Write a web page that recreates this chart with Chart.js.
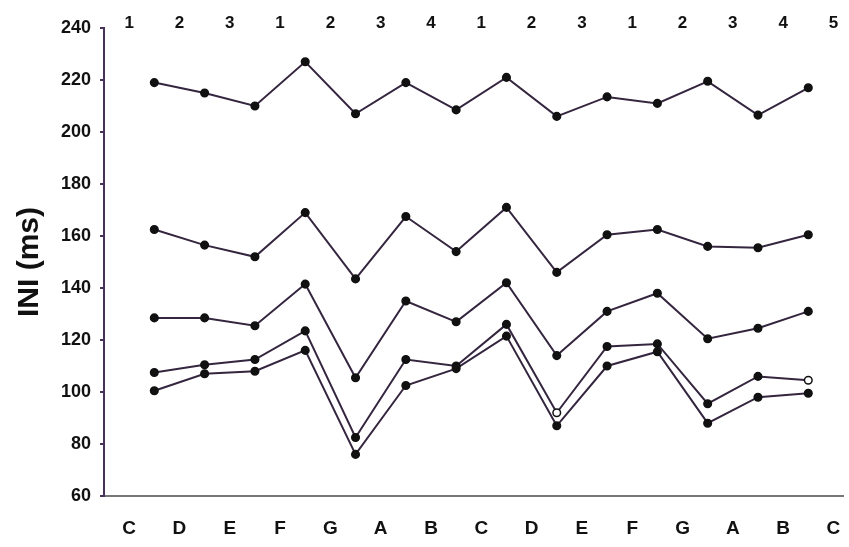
<!DOCTYPE html>
<html>
<head>
<meta charset="utf-8">
<script src="https://cdn.jsdelivr.net/npm/chart.js@4.4.1/dist/chart.umd.min.js"></script>
<style>
html,body{margin:0;padding:0;background:#fff;}
#wrap{position:relative;width:849px;height:547px;}
</style>
</head>
<body>
<div id="wrap"><canvas id="c" width="849" height="547"></canvas></div>
<script>
// Bottom note names (category per column), top sequence numbers
const notes = ['C','D','E','F','G','A','B','C','D','E','F','G','A','B','C'];
const topNumbers = ['1','2','3','1','2','3','4','1','2','3','1','2','3','4','5'];
const yTicks = [60,80,100,120,140,160,180,200,220,240];

// Series values, one per point from D (1st) to final C
const series1 = [219,215,210,227,207,219,208.5,221,206,213.5,211,219.5,206.5,217];
const series2 = [162.5,156.5,152,169,143.5,167.5,154,171,146,160.5,162.5,156,155.5,160.5];
const series3 = [128.5,128.5,125.5,141.5,105.5,135,127,142,114,131,138,120.5,124.5,131];
const series4 = [107.5,110.5,112.5,123.5,82.5,112.5,110,126,92,117.5,118.5,95.5,106,104.5];
const series5 = [100.5,107,108,116,76,102.5,109,121.5,87,110,115.5,88,98,99.5];

const lineColor = '#35263f';
const axisColor = '#46325a';
const mk = (arr, openIdx) => ({
  data: arr.map((v,i)=>({x:i+1,y:v})),
  borderColor: lineColor,
  borderWidth: 2,
  pointRadius: 3.8,
  pointBorderWidth: 1.5,
  pointBorderColor: '#111',
  pointBackgroundColor: arr.map((v,i)=> (openIdx||[]).includes(i) ? '#ffffff' : '#111'),
  tension: 0,
  fill: false
});

const tickPos = notes.map((n,i)=>i+0.5);

new Chart(document.getElementById('c'), {
  type: 'line',
  data: {
    datasets: [
      mk(series1), mk(series2), mk(series3), mk(series4,[8,13]), mk(series5)
    ]
  },
  options: {
    responsive: false,
    animation: false,
    layout: {padding: {left: 0, right: 5, top: 0, bottom: 0}},
    plugins: {legend: {display: false}, tooltip: {enabled: false}},
    scales: {
      x: {
        type: 'linear', position: 'bottom', min: 0, max: 14.7,
        afterBuildTicks: (ax)=>{ ax.ticks = tickPos.map(v=>({value:v})); },
        afterFit: (ax)=>{ ax.height = 51; ax.paddingRight = 0; ax.paddingLeft = 0; },
        grid: {display: false, drawTicks: false},
        border: {display: true, color: '#777', width: 2, dash: [12,5]},
        ticks: {
          autoSkip: false, maxRotation: 0, padding: 21,
          color: '#111', font: {family: 'Liberation Sans, Arial', size: 19, weight: 'bold'},
          callback: (v,i)=> notes[i]
        }
      },
      x2: {
        type: 'linear', position: 'top', min: 0, max: 14.7,
        afterBuildTicks: (ax)=>{ ax.ticks = tickPos.map(v=>({value:v})); },
        afterFit: (ax)=>{ ax.height = 28; ax.paddingRight = 0; ax.paddingLeft = 0; },
        grid: {display: false, drawTicks: false},
        border: {display: false},
        ticks: {
          autoSkip: false, maxRotation: 0, padding: -6,
          color: '#111', font: {family: 'Liberation Sans, Arial', size: 17, weight: 'bold'},
          callback: (v,i)=> topNumbers[i]
        }
      },
      y: {
        min: 60, max: 240,
        afterBuildTicks: (ax)=>{ ax.ticks = yTicks.map(v=>({value:v})); },
        afterFit: (ax)=>{ ax.width = 104; },
        grid: {display: true, drawOnChartArea: false, drawTicks: true, tickLength: 4, color: axisColor, lineWidth: 2},
        border: {display: true, color: axisColor, width: 2},
        title: {display: true, text: 'INI (ms)', color: '#111', padding: {top: 12, bottom: 0},
          font: {family: 'Liberation Sans, Arial', size: 30, weight: 'bold'}},
        ticks: {
          color: '#111', padding: 9,
          font: {family: 'Liberation Sans, Arial', size: 18, weight: 'bold'}
        }
      }
    }
  }
});
</script>
</body>
</html>
